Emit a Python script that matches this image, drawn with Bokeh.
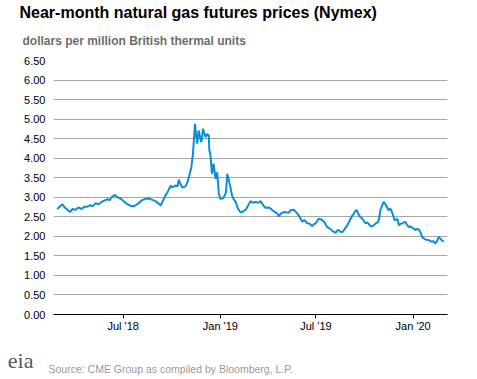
import pandas as pd
from bokeh.plotting import figure
from bokeh.layouts import column
from bokeh.models import Range1d, FixedTicker, NumeralTickFormatter, Title
from bokeh.embed import file_html
from bokeh.resources import INLINE

# ---- data ----
dates = [
    "2018-02-26", "2018-03-02", "2018-03-08", "2018-03-12", "2018-03-16", "2018-03-22",
    "2018-03-27", "2018-04-02", "2018-04-07", "2018-04-13", "2018-04-19", "2018-04-24",
    "2018-04-30", "2018-05-04", "2018-05-10", "2018-05-15", "2018-05-21", "2018-05-27",
    "2018-06-01", "2018-06-05", "2018-06-09", "2018-06-15", "2018-06-20", "2018-06-26",
    "2018-07-02", "2018-07-07", "2018-07-15", "2018-07-21", "2018-07-24", "2018-07-30",
    "2018-08-05", "2018-08-12", "2018-08-18", "2018-08-24", "2018-08-31", "2018-09-06",
    "2018-09-10", "2018-09-13", "2018-09-19", "2018-09-23", "2018-09-29", "2018-10-02",
    "2018-10-08", "2018-10-12", "2018-10-14", "2018-10-17", "2018-10-21", "2018-10-27",
    "2018-10-31", "2018-11-04", "2018-11-07", "2018-11-10", "2018-11-12", "2018-11-14",
    "2018-11-16", "2018-11-18", "2018-11-21", "2018-11-24", "2018-11-26", "2018-11-28",
    "2018-11-29", "2018-12-02", "2018-12-04", "2018-12-07", "2018-12-10", "2018-12-11",
    "2018-12-13", "2018-12-16", "2018-12-19", "2018-12-23", "2018-12-26", "2018-12-29",
    "2019-01-01", "2019-01-05", "2019-01-07", "2019-01-11", "2019-01-12", "2019-01-14",
    "2019-01-17", "2019-01-20", "2019-01-23", "2019-01-26", "2019-01-30", "2019-02-02",
    "2019-02-05", "2019-02-08", "2019-02-11", "2019-02-14", "2019-02-18", "2019-02-23",
    "2019-02-27", "2019-03-03", "2019-03-08", "2019-03-14", "2019-03-18", "2019-03-22",
    "2019-03-27", "2019-04-02", "2019-04-06", "2019-04-10", "2019-04-15", "2019-04-19",
    "2019-04-22", "2019-04-25", "2019-05-01", "2019-05-04", "2019-05-10", "2019-05-14",
    "2019-05-20", "2019-05-23", "2019-05-29", "2019-06-02", "2019-06-05", "2019-06-09",
    "2019-06-14", "2019-06-19", "2019-06-24", "2019-06-26", "2019-06-30", "2019-07-06",
    "2019-07-10", "2019-07-13", "2019-07-17", "2019-07-22", "2019-07-27", "2019-08-01",
    "2019-08-03", "2019-08-07", "2019-08-10", "2019-08-13", "2019-08-16", "2019-08-20",
    "2019-08-24", "2019-08-29", "2019-09-02", "2019-09-08", "2019-09-10", "2019-09-12",
    "2019-09-16", "2019-09-19", "2019-09-23", "2019-09-27", "2019-10-03", "2019-10-06",
    "2019-10-11", "2019-10-15", "2019-10-22", "2019-10-27", "2019-10-29", "2019-10-31",
    "2019-11-03", "2019-11-06", "2019-11-11", "2019-11-15", "2019-11-19", "2019-11-23",
    "2019-11-27", "2019-12-02", "2019-12-05", "2019-12-08", "2019-12-11", "2019-12-14",
    "2019-12-17", "2019-12-20", "2019-12-24", "2019-12-27", "2019-12-30", "2020-01-02",
    "2020-01-05", "2020-01-08", "2020-01-12", "2020-01-15", "2020-01-18", "2020-01-21",
    "2020-01-24", "2020-01-28", "2020-01-31", "2020-02-03", "2020-02-06", "2020-02-08",
    "2020-02-12", "2020-02-16", "2020-02-18", "2020-02-21", "2020-02-24", "2020-02-28",
]
prices = [
    2.70, 2.75, 2.82, 2.74, 2.70, 2.62,
    2.70, 2.68, 2.74, 2.70, 2.76, 2.76,
    2.80, 2.77, 2.85, 2.82, 2.88, 2.92,
    2.95, 2.92, 3.00, 3.06, 3.00, 2.97,
    2.90, 2.84, 2.78, 2.77, 2.79, 2.85,
    2.92, 2.96, 2.97, 2.94, 2.90, 2.84,
    2.79, 2.88, 3.05, 3.13, 3.30, 3.25,
    3.30, 3.28, 3.45, 3.35, 3.25, 3.28,
    3.40, 3.60, 3.77, 4.10, 4.50, 4.88,
    4.60, 4.37, 4.71, 4.50, 4.41, 4.60,
    4.75, 4.62, 4.54, 4.62, 4.58, 4.20,
    4.11, 3.60, 3.86, 3.47, 3.64, 3.09,
    2.96, 2.97, 2.99, 3.10, 3.22, 3.60,
    3.43, 3.26, 3.05, 2.95, 2.88, 2.75,
    2.67, 2.62, 2.62, 2.65, 2.68, 2.80,
    2.90, 2.86, 2.88, 2.86, 2.90, 2.82,
    2.73, 2.74, 2.71, 2.66, 2.62, 2.58,
    2.51, 2.58, 2.62, 2.62, 2.60, 2.67,
    2.68, 2.64, 2.54, 2.45, 2.37, 2.42,
    2.34, 2.32, 2.26, 2.30, 2.33, 2.45,
    2.44, 2.41, 2.36, 2.24, 2.20, 2.14,
    2.12, 2.09, 2.15, 2.16, 2.12, 2.11,
    2.18, 2.28, 2.38, 2.54, 2.56, 2.62,
    2.68, 2.58, 2.49, 2.45, 2.33, 2.36,
    2.28, 2.25, 2.33, 2.37, 2.50, 2.67,
    2.78, 2.88, 2.79, 2.67, 2.71, 2.58,
    2.41, 2.45, 2.28, 2.32, 2.33, 2.35,
    2.37, 2.30, 2.24, 2.25, 2.22, 2.20,
    2.16, 2.19, 2.17, 2.10, 1.98, 1.95,
    1.92, 1.91, 1.90, 1.88, 1.86, 1.88,
    1.82, 1.90, 1.98, 1.95, 1.90, 1.86,
]
y_ticks = [0.0, 0.5, 1.0, 1.5, 2.0, 2.5, 3.0, 3.5, 4.0, 4.5, 5.0, 5.5, 6.0, 6.5]
x_tick_dates = ["2018-07-01", "2019-01-01", "2019-07-01", "2020-01-01"]
x_tick_labels = ["Jul '18", "Jan '19", "Jul '19", "Jan '20"]
x_start, x_end = "2018-02-19", "2020-03-06"

title_text = "Near-month natural gas futures prices (Nymex)"
subtitle_text = "dollars per million British thermal units"
source_text = "Source: CME Group as compiled by Bloomberg, L.P."
logo_text = "eia"

FONT = "Liberation Sans"
W = 477


def ms(s):
    return int(pd.Timestamp(s).value // 10**6)


def spacer(px):
    return Title(text=" ", text_font_size="1px", standoff=px)


# ---- main chart ----
p = figure(width=W, height=340, output_backend="svg", toolbar_location=None,
           x_axis_type="datetime",
           x_range=Range1d(ms(x_start), ms(x_end)), y_range=Range1d(0, 6.5),
           min_border_left=53, min_border_right=30, min_border_top=60, min_border_bottom=26)
p.title_location = None
p.outline_line_color = None
p.background_fill_color = "white"
p.border_fill_color = "white"

p.line(pd.to_datetime(dates), prices, line_color="#0b8fd3", line_width=2)

p.yaxis.ticker = FixedTicker(ticks=y_ticks)
p.yaxis.formatter = NumeralTickFormatter(format="0.00")
p.yaxis.axis_line_color = None
p.yaxis.major_tick_line_color = None
p.yaxis.minor_tick_line_color = None
p.yaxis.major_tick_out = 0
p.yaxis.major_tick_in = 0
p.yaxis.major_label_standoff = 8
p.yaxis.major_label_text_font = FONT
p.yaxis.major_label_text_font_size = "11px"
p.yaxis.major_label_text_color = "#000000"

tick_ms = [ms(d) for d in x_tick_dates]
p.xaxis.ticker = FixedTicker(ticks=tick_ms)
p.xaxis.major_label_overrides = {t: lab for t, lab in zip(tick_ms, x_tick_labels)}
p.xaxis.axis_line_color = "#000000"
p.xaxis.axis_line_width = 1
p.xaxis.major_tick_line_color = "#000000"
p.xaxis.major_tick_out = 4
p.xaxis.major_tick_in = 0
p.xaxis.minor_tick_line_color = None
p.xaxis.major_label_standoff = 1
p.xaxis.major_label_text_font = FONT
p.xaxis.major_label_text_font_size = "11px"
p.xaxis.major_label_text_color = "#000000"

p.xgrid.grid_line_color = None
p.ygrid.grid_line_color = "#a6a6a6"
p.ygrid.grid_line_width = 1

# title block (first = nearest the frame)
p.add_layout(spacer(10), "above")
p.add_layout(Title(text=subtitle_text, align="left", offset=-31, standoff=0,
                   text_font=FONT, text_font_size="12px", text_font_style="bold",
                   text_color="#6d6d6d"), "above")
p.add_layout(spacer(8), "above")
p.add_layout(Title(text=title_text, align="left", offset=-34, standoff=0,
                   text_font=FONT, text_font_size="16px", text_font_style="bold",
                   text_color="#000000"), "above")

# ---- footer: logo (as a tick label on the left) and source note ----
foot = figure(width=W, height=39, output_backend="svg", toolbar_location=None,
              x_range=Range1d(0, 1), y_range=Range1d(0, 22),
              x_axis_location=None, y_axis_location="left",
              min_border_left=53, min_border_right=30, min_border_top=0, min_border_bottom=17)
foot.title_location = None
foot.outline_line_color = None
foot.grid.visible = False
foot.background_fill_color = "white"
foot.border_fill_color = "white"
foot.yaxis.ticker = FixedTicker(ticks=[2])
foot.yaxis.major_label_overrides = {2: logo_text}
foot.yaxis.axis_line_color = None
foot.yaxis.major_tick_line_color = None
foot.yaxis.minor_tick_line_color = None
foot.yaxis.major_tick_out = 0
foot.yaxis.major_tick_in = 0
foot.yaxis.major_label_standoff = 20
foot.yaxis.major_label_text_font = "Liberation Serif"
foot.yaxis.major_label_text_font_size = "22px"
foot.yaxis.major_label_text_color = "#4f5b66"
foot.add_layout(Title(text=source_text, align="left", offset=-5, standoff=0,
                      vertical_align="top",
                      text_font=FONT, text_font_size="10.5px", text_font_style="normal",
                      text_color="#999999"), "below")

layout = column(p, foot, spacing=0)
open("out.html", "w").write(file_html(layout, INLINE))
